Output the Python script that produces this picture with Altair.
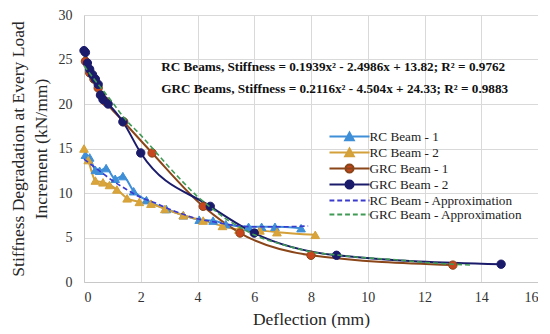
import math
import altair as alt
import pandas as pd

series_names = ["RC Beam - 1", "RC Beam - 2", "GRC Beam - 1", "GRC Beam - 2",
                "RC Beam - Approximation", "GRC Beam - Approximation"]

rc1_x = [0.05, 0.2, 0.4, 0.55, 0.78, 1.1, 1.37, 1.75, 2.2, 2.9, 3.5, 4.06, 4.55, 5.0, 5.8, 6.26, 6.73, 7.65]
rc1_y = [14.3, 14.0, 12.6, 12.5, 12.8, 11.6, 11.9, 10.2, 9.2, 8.2, 7.5, 7.0, 6.9, 6.5, 6.2, 6.2, 6.2, 6.05]

rc2_x = [0.0, 0.15, 0.4, 0.67, 0.9, 1.16, 1.52, 1.95, 2.36, 2.85, 3.5, 4.2, 4.88, 5.46, 6.2, 6.8, 8.15]
rc2_y = [15.0, 13.7, 11.4, 11.2, 10.9, 10.4, 9.4, 9.0, 8.8, 8.2, 7.5, 6.9, 6.3, 5.9, 5.8, 5.6, 5.3]

grc1_x = [0.05, 0.2, 0.35, 0.5, 0.6, 0.75, 1.4, 2.4, 4.2, 5.5, 8.0, 13.0]
grc1_y = [24.8, 23.5, 22.8, 21.8, 21.0, 20.3, 18.0, 14.5, 8.5, 5.5, 3.0, 1.9]

grc2_x = [0.0, 0.05, 0.12, 0.2, 0.3, 0.4, 0.5, 0.58, 0.67, 0.85, 1.37, 2.0, 4.45, 6.0, 8.9, 14.7]
grc2_y = [26.0, 25.8, 24.6, 23.9, 23.3, 22.8, 22.2, 21.0, 20.5, 20.0, 18.0, 14.5, 8.5, 5.5, 3.0, 2.0]

rca_x = [0.0, 0.5, 1.0, 1.5, 2.0, 2.5, 3.0, 3.5, 4.0, 4.5, 5.0, 5.5, 6.0, 7.0, 7.9]
rca_y = [13.8, 12.6, 11.4, 10.4, 9.5, 8.9, 8.2, 7.6, 7.1, 6.8, 6.5, 6.3, 6.2, 6.2, 6.3]

grca_x = [0.0, 0.5, 1.0, 1.4, 2.0, 2.45, 3.0, 3.5, 4.0, 4.5, 5.0, 5.5, 6.0, 7.0, 8.0, 9.0, 10.0, 11.0, 12.0, 13.0, 13.7]
grca_y = [24.3, 22.2, 20.2, 18.5, 16.5, 14.9, 12.9, 11.2, 9.6, 8.3, 7.1, 6.15, 5.3, 4.2, 3.4, 3.0, 2.7, 2.5, 2.2, 2.0, 1.9]

x_ticks = [0, 2, 4, 6, 8, 10, 12, 14, 16]
y_ticks = [0, 5, 10, 15, 20, 25, 30]

eq_rc = "RC Beams, Stiffness = 0.1939x² - 2.4986x + 13.82; R² = 0.9762"
eq_grc = "GRC Beams, Stiffness = 0.2116x² - 4.504x + 24.33; R² = 0.9883"


def frame(name, xs, ys):
    return pd.DataFrame({"series": name, "x": xs, "y": ys})


rc_df = pd.concat([frame(series_names[0], rc1_x, rc1_y), frame(series_names[1], rc2_x, rc2_y)])
grc_df = pd.concat([frame(series_names[2], grc1_x, grc1_y), frame(series_names[3], grc2_x, grc2_y)])
data_df = pd.concat([rc_df, grc_df])
approx_df = pd.concat([frame(series_names[4], rca_x, rca_y), frame(series_names[5], grca_x, grca_y)])

fill_colors = ["#3F8FD8", "#D9A53A", "#C8461E", "#1B1B6B", "#3A3ACF", "#3F9A55"]
stroke_colors = ["#3F8FD8", "#D4A03A", "#8A4518", "#1B1B6B", "#3A3ACF", "#3F9A55"]

# legend symbols (unit = 6.5 px): a line segment with a marker
L = 3.08
line_p = f"M{-L},0H{L}"
tri_p = "M-0.66,0.56L0,-0.62L0.66,0.56Z"
circ_p = "M" + "L".join(
    f"{0.62*math.cos(2*math.pi*k/16):.3f},{0.62*math.sin(2*math.pi*k/16):.3f}" for k in range(16)) + "Z"
dash_p = ""
s = -L
while s < L:
    e = min(s + 0.75, L)
    dash_p += f"M{s:.2f},0H{e:.2f}"
    s += 1.2
legend_shapes = [line_p + tri_p, line_p + tri_p, line_p + circ_p, line_p + circ_p, dash_p, dash_p]

fill_scale = alt.Scale(domain=series_names, range=fill_colors)
stroke_scale = alt.Scale(domain=series_names, range=stroke_colors)
shape_scale = alt.Scale(domain=series_names, range=legend_shapes)

FONT = "'Liberation Serif', 'Times New Roman', Tinos, 'DejaVu Serif', serif"

legend = alt.Legend(title=None, orient="none", legendX=258, legendY=114,
                    symbolSize=169, symbolStrokeWidth=2, symbolOffset=0,
                    labelOffset=12.5, rowPadding=-1, padding=0,
                    labelFont=FONT, labelFontSize=13.2, labelColor="#222222",
                    symbolOpacity=1)

x_enc = alt.X("x:Q", scale=alt.Scale(domain=[0, 16], nice=False),
              axis=alt.Axis(values=x_ticks, title="Deflection (mm)",
                            labelFont=FONT, titleFont=FONT, titleFontWeight="normal"))
y_enc = alt.Y("y:Q", scale=alt.Scale(domain=[0, 30], nice=False),
              axis=alt.Axis(values=y_ticks,
                            title=["Stiffness Degradation at Every Load", "Increment (kN/mm)"],
                            labelFont=FONT, titleFont=FONT, titleFontWeight="normal"))

legend_layer = alt.Chart(data_df).transform_filter("false").mark_point(filled=True, opacity=1).encode(
    x=x_enc, y=y_enc,
    fill=alt.Fill("series:N", scale=fill_scale, legend=legend),
    stroke=alt.Stroke("series:N", scale=stroke_scale, legend=legend),
    shape=alt.Shape("series:N", scale=shape_scale, legend=legend),
)

lines = alt.Chart(data_df).mark_line(strokeWidth=2, interpolate="monotone").encode(
    x="x:Q", y="y:Q",
    stroke=alt.Stroke("series:N", scale=stroke_scale, legend=legend),
    detail="series:N",
)

tri_pts = alt.Chart(rc_df).mark_point(filled=True, shape="triangle-up", size=75, strokeWidth=1, opacity=1).encode(
    x="x:Q", y="y:Q",
    fill=alt.Fill("series:N", scale=fill_scale, legend=legend),
    stroke=alt.Stroke("series:N", scale=stroke_scale, legend=legend),
)

circ_pts = alt.Chart(grc_df).mark_point(filled=True, shape="circle", size=70, strokeWidth=1, opacity=1).encode(
    x="x:Q", y="y:Q",
    fill=alt.Fill("series:N", scale=fill_scale, legend=legend),
    stroke=alt.Stroke("series:N", scale=stroke_scale, legend=legend),
)

approx = alt.Chart(approx_df).mark_line(strokeWidth=1.6, strokeDash=[5, 3], interpolate="monotone").encode(
    x="x:Q", y="y:Q",
    stroke=alt.Stroke("series:N", scale=stroke_scale, legend=legend),
    detail="series:N",
)

eq1 = alt.Chart().mark_text(align="left", baseline="middle", font=FONT, fontWeight="bold",
                            fontSize=13.2, color="#111111").encode(
    x=alt.datum(2.72), y=alt.datum(24.2), text=alt.value(eq_rc))
eq2 = alt.Chart().mark_text(align="left", baseline="middle", font=FONT, fontWeight="bold",
                            fontSize=13.2, color="#111111").encode(
    x=alt.datum(2.72), y=alt.datum(21.7), text=alt.value(eq_grc))

chart = alt.layer(legend_layer, lines, tri_pts, circ_pts, approx, eq1, eq2).properties(
    width=454, height=267, padding=0, background="white"
).configure(font=FONT).configure_view(stroke=None).configure_axis(
    labelFont=FONT, labelFontSize=14, labelColor="#333333",
    titleFont=FONT, titleFontSize=17.5, titleFontWeight="normal", titleColor="#262626",
    gridColor="#d9d9d9", domainColor="#c8c8c8", ticks=False,
).configure_axisY(titlePadding=8, titleLineHeight=23, labelPadding=12).configure_axisX(
    titlePadding=6, labelPadding=8)

chart.save("out.html", embed_options={"renderer": "svg", "actions": False})
